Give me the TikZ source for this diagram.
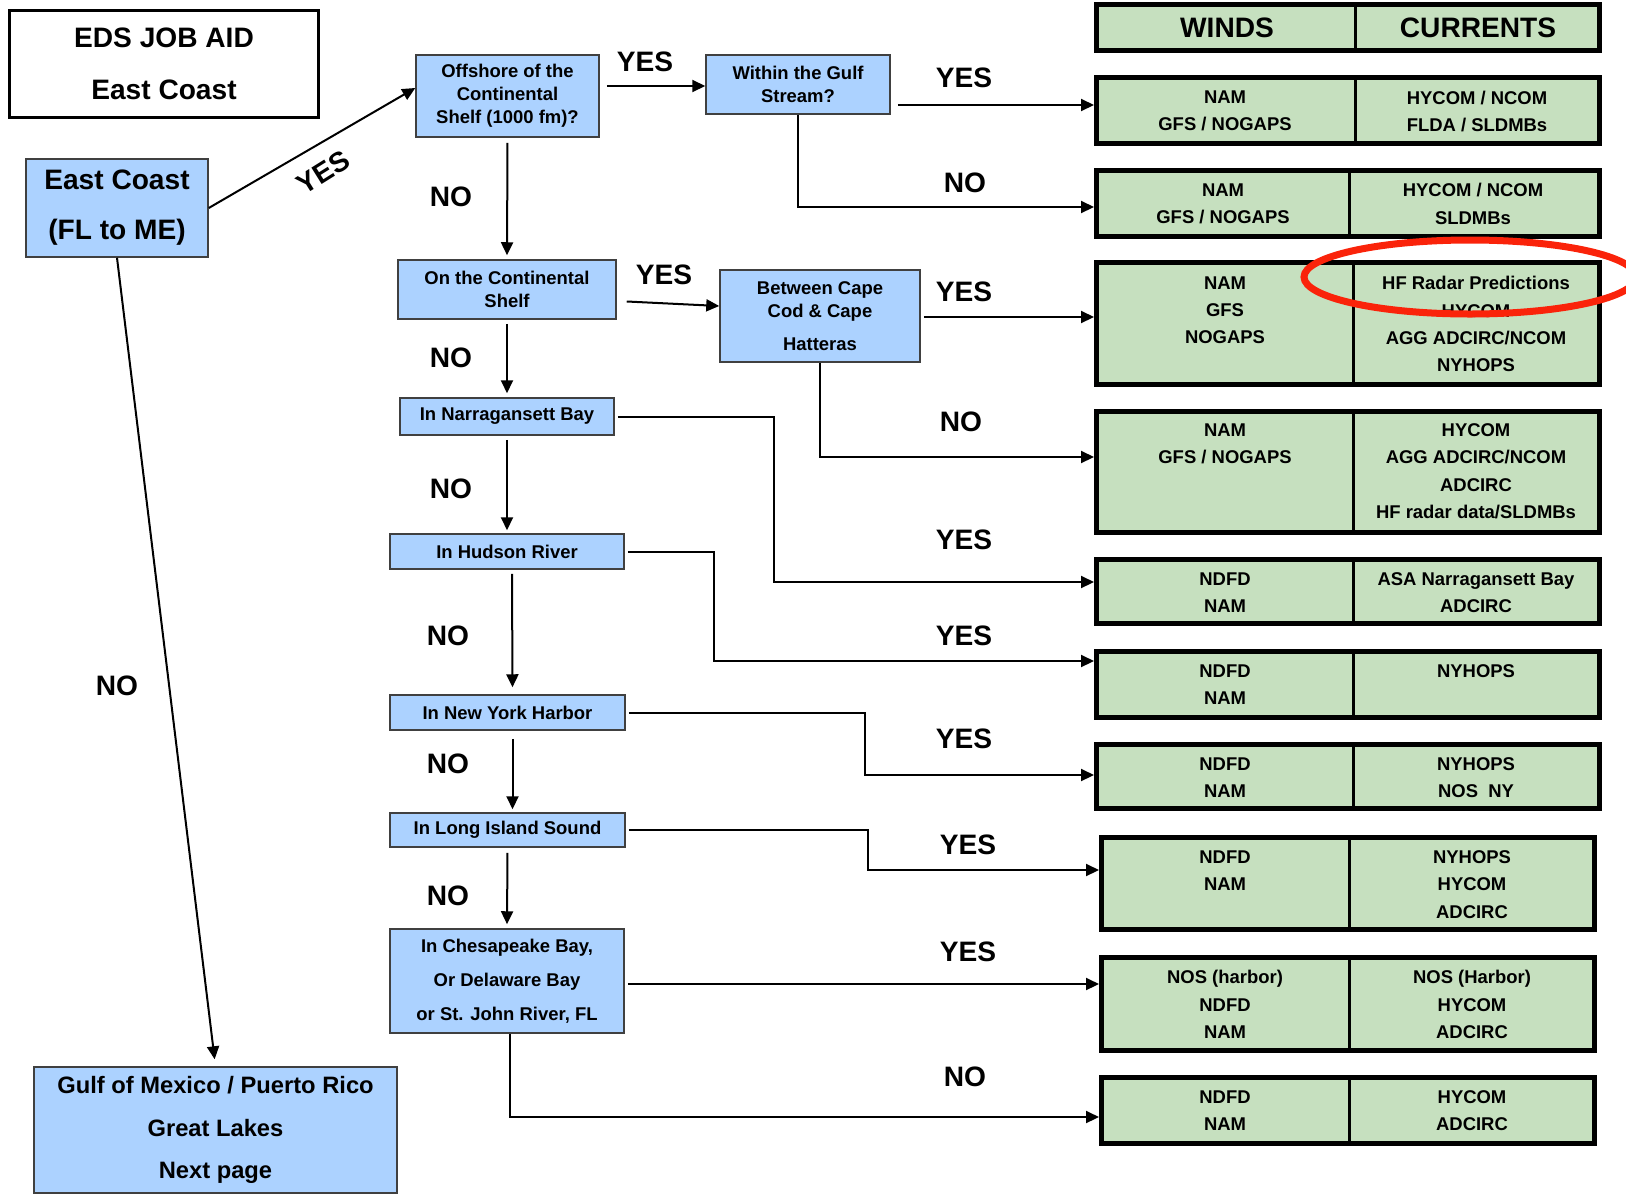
\documentclass[tikz,border=0pt]{standalone}
\usepackage{fontspec}
\setmainfont{Liberation Sans}
\usetikzlibrary{arrows.meta,fit}

\definecolor{qblue}{RGB}{172,210,255}
\definecolor{ansgreen}{RGB}{198,224,191}
\definecolor{ringred}{RGB}{250,35,10}

\begin{document}
\begin{tikzpicture}[x=0.2mm,y=-0.2mm,
  >={Triangle[length=2.6mm,width=2.4mm]},
  qbox/.style={draw=black!75,line width=0.3mm,fill=qblue,inner sep=0pt,
    align=center,font=\fontsize{10.5}{13}\bfseries},
  titlebox/.style={draw=black,line width=0.6mm,fill=white,inner sep=0pt,
    align=center,font=\fontsize{16}{29.5}\bfseries},
  rowbox/.style={draw=black,line width=1mm,fill=ansgreen,inner sep=0pt},
  divline/.style={line width=0.6mm},
  cell/.style={anchor=north,inner sep=0pt,align=center,
    font=\fontsize{10.5}{15.6}\bfseries},
  hdr/.style={inner sep=0pt,font=\fontsize{16}{19}\bfseries},
  lbl/.style={inner sep=0pt,font=\fontsize{16}{19}\bfseries},
  flow/.style={->,line width=0.4mm}]
\useasboundingbox (0,0) rectangle (1626,1195);

% questions
\node[titlebox, minimum width=61.6mm, minimum height=21.4mm] (title) at (164,63.5)
{EDS JOB AID\\East Coast};
\node[qbox, minimum width=36.4mm, minimum height=19.6mm,
  font=\fontsize{16}{28.4}\bfseries] (ec) at (117,208)
{East Coast\\(FL to ME)};
\node[qbox, minimum width=72.6mm, minimum height=25.2mm,
  font=\fontsize{13.5}{24.4}\bfseries] (nextbox) at (215.5,1130)
{Gulf of Mexico / Puerto Rico\\Great Lakes\\Next page};
\node[qbox, minimum width=36.6mm, minimum height=16.4mm] (offq) at (507.5,96)
{Offshore of the\\Continental\\Shelf (1000 fm)?};
\node[qbox, minimum width=36.8mm, minimum height=11.8mm] (streamq) at (798,84.5)
{Within the Gulf\\Stream?};
\node[qbox, minimum width=43.6mm, minimum height=11.8mm] (shelfq) at (507,289.5)
{On the Continental\\Shelf};
\node[qbox, minimum width=40mm, minimum height=18.4mm] (capeq) at (820,316)
{Between Cape\\Cod \& Cape\\[6pt]Hatteras};
\node[qbox, minimum width=42.8mm, minimum height=7.4mm] (narrq) at (507,416.5)
{In Narragansett Bay};
\node[qbox, minimum width=46.8mm, minimum height=7mm] (hudq) at (507,551.5)
{In Hudson River};
\node[qbox, minimum width=47mm, minimum height=7mm] (nyhq) at (507.5,712.5)
{In New York Harbor};
\node[qbox, minimum width=47mm, minimum height=6.8mm] (lisq) at (507.5,830)
{In Long Island Sound};
\node[qbox, minimum width=46.8mm, minimum height=20.8mm,
  font=\fontsize{10.5}{19.3}\bfseries] (chesq) at (507,981)
{In Chesapeake Bay,\\Or Delaware Bay\\or St. John River, FL};

% answer table
\node[rowbox, fit={(1096.5,4.5) (1599.5,50.5)}] (hrow) {};
\node[rowbox, fit={(1096.5,77.5) (1599.5,143.5)}] (r1) {};
\node[rowbox, fit={(1096.5,170.5) (1599.5,236.5)}] (r2) {};
\node[rowbox, fit={(1096.5,262.5) (1599.5,384.5)}] (r3) {};
\node[rowbox, fit={(1096.5,411.5) (1599.5,532.5)}] (r4) {};
\node[rowbox, fit={(1096.5,559.5) (1599.5,623.5)}] (r5) {};
\node[rowbox, fit={(1096.5,651.5) (1599.5,717.5)}] (r6) {};
\node[rowbox, fit={(1096.5,744.5) (1599.5,808.5)}] (r7) {};
\node[rowbox, fit={(1101.5,837.5) (1594.5,929.5)}] (r8) {};
\node[rowbox, fit={(1101.5,957.5) (1594.5,1050.5)}] (r9) {};
\node[rowbox, fit={(1101.5,1077.5) (1594.5,1143.5)}] (r10) {};

\draw[divline] (hrow.north -| 1355,0) -- (hrow.south -| 1355,0);
\draw[divline] (r1.north -| 1355,0) -- (r1.south -| 1355,0);
\draw[divline] (r2.north -| 1349,0) -- (r2.south -| 1349,0);
\draw[divline] (r3.north -| 1353,0) -- (r3.south -| 1353,0);
\draw[divline] (r4.north -| 1353,0) -- (r4.south -| 1353,0);
\draw[divline] (r5.north -| 1353,0) -- (r5.south -| 1353,0);
\draw[divline] (r6.north -| 1353,0) -- (r6.south -| 1353,0);
\draw[divline] (r7.north -| 1353,0) -- (r7.south -| 1353,0);
\draw[divline] (r8.north -| 1349,0) -- (r8.south -| 1349,0);
\draw[divline] (r9.north -| 1349,0) -- (r9.south -| 1349,0);
\draw[divline] (r10.north -| 1349,0) -- (r10.south -| 1349,0);

\node[hdr] (winds) at (1227,28) {WINDS};
\node[hdr] (currents) at (1478,28) {CURRENTS};

\node[cell] (r1w) at (1225,90.5) {NAM\\GFS / NOGAPS};
\node[cell] (r1c) at (1477,90.5) {HYCOM / NCOM\\FLDA / SLDMBs};
\node[cell] (r2w) at (1223,183) {NAM\\GFS / NOGAPS};
\node[cell] (r2c) at (1473,183) {HYCOM / NCOM\\SLDMBs};
\node[cell] (r3w) at (1225,276) {NAM\\GFS\\NOGAPS};
\node[cell] (r3c) at (1476,276)
{HF Radar Predictions\\HYCOM\\AGG ADCIRC/NCOM\\NYHOPS};
\node[cell] (r4w) at (1225,423) {NAM\\GFS / NOGAPS};
\node[cell] (r4c) at (1476,423)
{HYCOM\\AGG ADCIRC/NCOM\\ADCIRC\\HF radar data/SLDMBs};
\node[cell] (r5w) at (1225,572) {NDFD\\NAM};
\node[cell] (r5c) at (1476,572) {ASA Narragansett Bay\\ADCIRC};
\node[cell] (r6w) at (1225,664) {NDFD\\NAM};
\node[cell] (r6c) at (1476,664) {NYHOPS};
\node[cell] (r7w) at (1225,757) {NDFD\\NAM};
\node[cell] (r7c) at (1476,757) {NYHOPS\\NOS\ \ NY};
\node[cell] (r8w) at (1225,850) {NDFD\\NAM};
\node[cell] (r8c) at (1472,850) {NYHOPS\\HYCOM\\ADCIRC};
\node[cell] (r9w) at (1225,970) {NOS (harbor)\\NDFD\\NAM};
\node[cell] (r9c) at (1472,970) {NOS (Harbor)\\HYCOM\\ADCIRC};
\node[cell] (r10w) at (1225,1090) {NDFD\\NAM};
\node[cell] (r10c) at (1472,1090) {HYCOM\\ADCIRC};

% connectors
\draw[flow] (ec.east) -- (offq.west |- 0,88);
\draw[flow,shorten >=1.4mm] (ec.south) -- (nextbox.north);
\draw[flow,shorten <=1.4mm] (offq.east |- 0,86) -- (streamq.west |- 0,86);
\draw[flow,shorten <=1mm,shorten >=0.8mm] (offq.south) -- (shelfq.north);
\draw[flow,shorten <=1.4mm] (streamq.east |- 0,105) -- (r1.west |- 0,105);
\draw[flow] (streamq.south) |- (r2.west |- 0,207);
\draw[flow,shorten <=2mm] (shelfq.east |- 0,301) -- (capeq.west |- 0,306);
\draw[flow,shorten <=0.8mm,shorten >=0.8mm] (shelfq.south) -- (narrq.north);
\draw[flow,shorten <=0.6mm] (capeq.east |- 0,317) -- (r3.west |- 0,317);
\draw[flow] (capeq.south) |- (r4.west |- 0,457);
\draw[flow,shorten <=0.6mm] (narrq.east) -- ++(159,0) |- (r5.west |- 0,582);
\draw[flow,shorten <=0.8mm,shorten >=0.6mm] (narrq.south) -- (hudq.north);
\draw[flow,shorten <=0.6mm] (hudq.east) -- ++(89,0) |- (r6.west |- 0,661);
\draw[flow,shorten <=0.8mm,shorten >=1.4mm] ([xshift=1mm]hudq.south) -- ([xshift=1mm]nyhq.north);
\draw[flow,shorten <=0.6mm] (nyhq.east) -- ++(239,0) |- (r7.west |- 0,775);
\draw[flow,shorten <=1.6mm,shorten >=0.6mm] ([xshift=1mm]nyhq.south) -- ([xshift=1mm]lisq.north);
\draw[flow,shorten <=0.6mm] (lisq.east) -- ++(242,0) |- (r8.west |- 0,870);
\draw[flow,shorten <=1mm,shorten >=0.8mm] (lisq.south) -- (chesq.north);
\draw[flow,shorten <=0.6mm] (chesq.east |- 0,984) -- (r9.west |- 0,984);
\draw[flow] ([xshift=0.6mm]chesq.south) |- (r10.west |- 0,1117);

% answers on the arrows
\node[lbl, rotate=32] (yes0) at (323,172) {YES};
\node[lbl] (no0) at (117,686) {NO};
\node[lbl] (yes1) at (645,62) {YES};
\node[lbl] (no1) at (451,197) {NO};
\node[lbl] (yes2) at (964,78) {YES};
\node[lbl] (no2) at (965,183) {NO};
\node[lbl] (yes3) at (664,275) {YES};
\node[lbl] (no3) at (451,358) {NO};
\node[lbl] (yes4) at (964,292) {YES};
\node[lbl] (no4) at (961,422) {NO};
\node[lbl] (yes5) at (964,540) {YES};
\node[lbl] (no5) at (451,489) {NO};
\node[lbl] (yes6) at (964,636) {YES};
\node[lbl] (no6) at (448,636) {NO};
\node[lbl] (yes7) at (964,739) {YES};
\node[lbl] (no7) at (448,764) {NO};
\node[lbl] (yes8) at (968,845) {YES};
\node[lbl] (no8) at (448,896) {NO};
\node[lbl] (yes9) at (968,952) {YES};
\node[lbl] (no9) at (965,1077) {NO};

% red ring
\draw[ringred,line width=1.4mm] (1470,277) ellipse [x radius=33.2mm, y radius=7.4mm];
\end{tikzpicture}
\end{document}
